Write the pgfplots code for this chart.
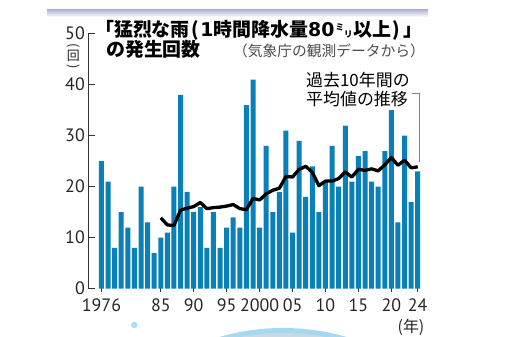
\documentclass[border=0pt]{standalone}
\usepackage{fontspec}
\setmainfont{PT Sans}
\newfontfamily\jp{Noto Sans CJK JP}
\newfontfamily\dvb{DejaVu Sans}
\usepackage{pgfplots}
\pgfplotsset{compat=1.18}
\definecolor{barblue}{HTML}{0A80B8}
\definecolor{axgray}{HTML}{333333}
\definecolor{arcblue}{HTML}{A6D8F2}
\definecolor{arcin}{HTML}{C9D9E2}
\begin{document}
\begin{tikzpicture}[x=1bp,y=1bp]
\path[use as bounding box] (0,0) rectangle (516,336);
\begin{scope}
\clip (0,0) rectangle (516,336);
\shade[top color=blue!25!gray!45, bottom color=white] (47,319) rectangle (428,326);
\fill[cyan!35] (134.3,11) circle (3.3);
\fill[arcblue] (283,-221) circle (229);
\fill[arcin] (283,-226) circle (229);
\end{scope}
\begin{axis}[
  at={(88.3bp,47.3bp)}, anchor=south west,
  scale only axis, width=336bp, height=255bp,
  xmin=1974, xmax=2025, ymin=0, ymax=50,
  axis y line*=left, axis x line*=bottom,
  x axis line style={draw=none},
  y axis line style={draw=axgray, line width=0.9bp, -},
  ytick={0,10,...,50},
  xtick={1976,1985,1990,1995,2000,2005,2010,2015,2020,2024},
  xticklabels={1976,85,90,95,2000,05,10,15,20,24},
  major tick length=7bp,
  ytick align=inside, xtick align=center,
  tick style={draw=axgray, line width=0.9bp},
  /pgf/number format/assume math mode=true,
  tick label style={font=\fontsize{18}{18}\selectfont, text=black!85},
  xticklabel style={yshift=-3bp},
  clip=false,
]
\addplot[ybar, bar width=5bp, fill=barblue, draw=none] coordinates {
(1976,25)(1977,21)(1978,8)(1979,15)(1980,12)(1981,8)(1982,20)(1983,13)(1984,7)(1985,10)
(1986,11)(1987,20)(1988,38)(1989,19)(1990,15)(1991,16)(1992,8)(1993,15)(1994,8)(1995,12)
(1996,14)(1997,12)(1998,36)(1999,41)(2000,12)(2001,28)(2002,15)(2003,19)(2004,31)(2005,11)
(2006,29)(2007,18)(2008,24)(2009,15)(2010,21)(2011,28)(2012,20)(2013,32)(2014,21)(2015,26)
(2016,27)(2017,21)(2018,20)(2019,27)(2020,35)(2021,13)(2022,30)(2023,17)(2024,23)
};
\addplot[black, line width=3.3bp, line join=round, no marks] coordinates {
(1985,13.9)(1986,12.5)(1987,12.4)(1988,15.4)(1989,15.8)(1990,16.1)(1991,16.9)(1992,15.7)
(1993,15.9)(1994,16.0)(1995,16.2)(1996,16.5)(1997,15.7)(1998,15.5)(1999,17.7)(2000,17.4)
(2001,18.6)(2002,19.3)(2003,19.7)(2004,22.0)(2005,21.9)(2006,23.4)(2007,24.0)(2008,22.8)
(2009,20.2)(2010,21.1)(2011,21.1)(2012,21.6)(2013,22.9)(2014,21.9)(2015,23.4)(2016,23.2)
(2017,23.5)(2018,23.1)(2019,24.3)(2020,25.7)(2021,24.2)(2022,25.2)(2023,23.7)(2024,23.9)
};
\draw[gray, line width=0.7bp] (axis cs:2024.3,24.8) -- (axis cs:2024.3,38.3) -- (axis cs:2023.1,38.3);
\end{axis}
% titles
\node[anchor=base west, inner sep=0pt] at (95,300) {\jp\bfseries\fontsize{19}{19}\selectfont 「猛烈な雨\hspace{2bp}(\hspace{1bp}{\dvb\bfseries 1}時間降水量{\dvb\bfseries 80}\hspace{1bp}{\fontsize{8.5}{8.5}\selectfont\raisebox{6bp}{ミ}\raisebox{-1bp}{リ}}\hspace{1bp}以上\hspace{1bp})\hspace{4bp}」};
\node[anchor=base west, inner sep=0pt] at (106,280) {\jp\bfseries\fontsize{19}{19}\selectfont の発生回数};
\node[anchor=base west, inner sep=0pt, text=black!70] at (233,280) {\jp\fontsize{14.8}{14.8}\selectfont （気象庁の観測データから）};
\node[anchor=base west, inner sep=0pt] at (306,250) {\jp\fontsize{17}{17}\selectfont 過去10年間の};
\node[anchor=base west, inner sep=0pt] at (306,231) {\jp\fontsize{17}{17}\selectfont 平均値の推移};
% unit labels
\node[inner sep=0pt, rotate=-90, text=black!85] at (73.3,290) {\jp\fontsize{13}{13}\selectfont (};
\node[inner sep=0pt, text=black!85] at (73.3,280) {\jp\fontsize{13}{13}\selectfont 回};
\node[inner sep=0pt, rotate=-90, text=black!85] at (73.3,269) {\jp\fontsize{13}{13}\selectfont )};
\node[inner sep=0pt, text=black!85] at (411,8.5) {\jp\fontsize{16}{16}\selectfont (年)};
\end{tikzpicture}
\end{document}
